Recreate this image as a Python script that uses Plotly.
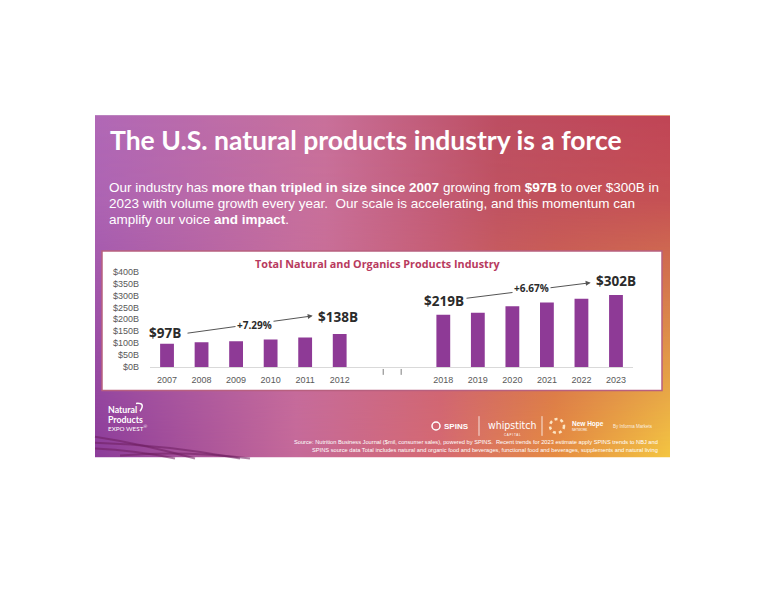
import base64
import plotly.graph_objects as go

# ---------------- data ----------------
years_early = ["2007", "2008", "2009", "2010", "2011", "2012"]
values_early = [97, 104, 108, 115, 124, 138]
years_late = ["2018", "2019", "2020", "2021", "2022", "2023"]
values_late = [219, 228, 255, 271, 286, 302]
gap_cats = [" ", "  "]
y_ticks = [0, 50, 100, 150, 200, 250, 300, 350, 400]
cagr_early = "+7.29%"
cagr_late = "+6.67%"

W, H = 776, 600
OX, OY = 8, 8  # page body margin offset


def px(x):
    return (x - OX) / W


def py(y):
    return 1 - (y - OY) / H


categories = years_early + gap_cats + years_late
values = values_early + [None, None] + values_late

# ---------------- background gradient (SVG) ----------------
svg = """<svg xmlns='http://www.w3.org/2000/svg' width='580' height='350' viewBox='0 0 580 350' preserveAspectRatio='none'>
<defs>
<linearGradient id='bot' x1='0' y1='0' x2='1' y2='0'>
<stop offset='0' stop-color='#8c3c9a'/>
<stop offset='0.35' stop-color='#c66a9a'/>
<stop offset='0.6' stop-color='#d66a72'/>
<stop offset='0.8' stop-color='#e68c42'/>
<stop offset='1' stop-color='#f4c642'/>
</linearGradient>
<linearGradient id='top' x1='0' y1='0' x2='1' y2='0'>
<stop offset='0' stop-color='#b068b6'/>
<stop offset='0.4' stop-color='#c8709a'/>
<stop offset='0.7' stop-color='#bc4e62'/>
<stop offset='1' stop-color='#c04456'/>
</linearGradient>
<linearGradient id='v' x1='0' y1='0' x2='0' y2='1'>
<stop offset='0' stop-color='white'/>
<stop offset='0.25' stop-color='white' stop-opacity='0.9'/>
<stop offset='1' stop-color='white' stop-opacity='0'/>
</linearGradient>
<mask id='m'><rect width='580' height='350' fill='url(#v)'/></mask>
</defs>
<rect width='580' height='350' fill='url(#bot)'/>
<rect width='580' height='350' fill='url(#top)' mask='url(#m)'/>
</svg>"""
svg_uri = "data:image/svg+xml;base64," + base64.b64encode(svg.encode()).decode()

fig = go.Figure()

fig.add_trace(go.Bar(
    x=categories, y=values,
    marker=dict(color="#8e3a96", line=dict(width=0)),
    hoverinfo="skip", showlegend=False,
))

shapes = []
# chart panel
shapes.append(dict(type="rect", xref="paper", yref="paper",
                   x0=px(102), x1=px(662), y0=py(392), y1=py(250),
                   fillcolor="white", line=dict(color="#b8607f", width=1.5),
                   layer="below"))
# axis break marks
for xb in (6.26, 6.78):
    shapes.append(dict(type="line", xref="x", yref="paper",
                       x0=xb, x1=xb, y0=py(376), y1=py(370),
                       line=dict(color="#7f7f7f", width=1)))
# decorative swooshes bottom-left
swoosh_paths = [
    [(95, 439), (140, 446), (195, 461)],
    [(95, 445), (165, 447), (240, 461)],
    [(95, 451), (135, 453), (175, 461)],
    [(120, 458), (185, 453), (250, 461)],
]
for pts in swoosh_paths:
    (x0, y0), (xc, yc), (x1, y1) = pts
    path = f"M {px(x0)},{py(y0)} Q {px(xc)},{py(yc)} {px(x1)},{py(y1)}"
    shapes.append(dict(type="path", xref="paper", yref="paper", path=path,
                       line=dict(color="rgba(110,30,95,0.55)", width=2)))
# logo swirl
shapes.append(dict(type="path", xref="paper", yref="paper",
                   path=f"M {px(136)},{py(405)} Q {px(146)},{py(404)} {px(140)},{py(413)}",
                   line=dict(color="white", width=1.5)))
# logo dividers
for xd in (479, 542):
    shapes.append(dict(type="line", xref="paper", yref="paper",
                       x0=px(xd), x1=px(xd), y0=py(438), y1=py(418),
                       line=dict(color="rgba(255,255,255,0.8)", width=1)))
# SPINS icon and New Hope ring icon
shapes.append(dict(type="circle", xref="paper", yref="paper",
                   x0=px(432), x1=px(440), y0=py(432), y1=py(424),
                   line=dict(color="white", width=1.5), fillcolor="rgba(0,0,0,0)"))
shapes.append(dict(type="circle", xref="paper", yref="paper",
                   x0=px(550), x1=px(564), y0=py(435), y1=py(421),
                   line=dict(color="rgba(255,240,210,0.9)", width=2.5, dash="dot"),
                   fillcolor="rgba(0,0,0,0)"))

ann = []
WHITE = "white"
# title
ann.append(dict(text="<b>The U.S. natural products industry is a force</b>",
                x=px(108), y=py(137), xanchor="left", yanchor="middle",
                font=dict(family="Lato", size=26.5, color=WHITE)))
body_lines = [
    "Our industry has <b>more than tripled in size since 2007</b> growing from <b>$97B</b> to over $300B in",
    "2023 with volume growth every year.  Our scale is accelerating, and this momentum can",
    "amplify our voice <b>and impact</b>.",
]
for i, line in enumerate(body_lines):
    ann.append(dict(text=line, x=px(107), y=py(185.5 + 16 * i), xanchor="left",
                    yanchor="middle",
                    font=dict(family="Liberation Sans", size=13.5, color=WHITE)))
# chart title
ann.append(dict(text="<b>Total Natural and Organics Products Industry</b>",
                x=px(378), y=py(263), xanchor="center", yanchor="middle",
                font=dict(family="Open Sans", size=10.8, color="#b83a5e")))

# arrows (drawn first so labels sit on top)
ann.append(dict(text="", x=px(312.7), y=py(316), xref="paper", yref="paper",
                showarrow=True, ax=-126.7, ay=17.5, arrowhead=2, arrowsize=1,
                arrowwidth=1, arrowcolor="#555555"))
ann.append(dict(text="", x=px(590.7), y=py(282.3), xref="paper", yref="paper",
                showarrow=True, ax=-125.7, ay=15.7, arrowhead=2, arrowsize=1,
                arrowwidth=1, arrowcolor="#555555"))

label_font = dict(family="Open Sans", size=13.5, color="#2b2b2b")
ann.append(dict(text=f"<b>${values_early[0]}B</b>", x=px(165), y=py(333.3),
                font=label_font))
ann.append(dict(text=f"<b>${values_early[-1]}B</b>", x=px(338), y=py(317.3),
                font=label_font))
ann.append(dict(text=f"<b>${values_late[0]}B</b>", x=px(443.5), y=py(301),
                font=label_font))
ann.append(dict(text=f"<b>${values_late[-1]}B</b>", x=px(616), y=py(280.7),
                font=label_font))
pct_font = dict(family="Open Sans", size=10, color="#2b2b2b")
ann.append(dict(text=f"<b>{cagr_early}</b>", x=px(254.7), y=py(325),
                bgcolor="white", borderpad=1, font=pct_font))
ann.append(dict(text=f"<b>{cagr_late}</b>", x=px(531), y=py(288),
                bgcolor="white", borderpad=1, font=pct_font))

# bottom-left logo
ann.append(dict(text="<b>Natural</b>", x=px(106), y=py(411.5), xanchor="left",
                font=dict(family="Lato", size=8.8, color=WHITE)))
ann.append(dict(text="<b>Products</b>", x=px(106), y=py(421), xanchor="left",
                font=dict(family="Lato", size=8.8, color=WHITE)))
ann.append(dict(text="EXPO WEST<sup>®</sup>", x=px(106), y=py(430), xanchor="left",
                font=dict(family="Lato", size=6.3, color=WHITE)))

# right logos
ann.append(dict(text="<b>SPINS</b>", x=px(442), y=py(428), xanchor="left",
                font=dict(family="Liberation Sans", size=8, color=WHITE)))
ann.append(dict(text="whipstitch", x=px(512), y=py(426.5), xanchor="center",
                font=dict(family="DejaVu Sans Condensed, Liberation Sans", size=10.5,
                          color=WHITE)))
ann.append(dict(text="C A P I T A L", x=px(512), y=py(437), xanchor="center",
                font=dict(family="Liberation Sans", size=3, color=WHITE)))
ann.append(dict(text="<b>New Hope</b>", x=px(570), y=py(426), xanchor="left",
                font=dict(family="Liberation Sans", size=6.5, color=WHITE)))
ann.append(dict(text="NETWORK", x=px(570), y=py(432), xanchor="left",
                font=dict(family="Liberation Sans", size=3, color=WHITE)))
ann.append(dict(text="By Informa Markets", x=px(611), y=py(428), xanchor="left",
                font=dict(family="Liberation Sans", size=4.5,
                          color="rgba(255,255,255,0.85)")))

# source note
src_lines = [
    "Source: Nutrition Business Journal ($mil, consumer sales), powered by SPINS.  Recent trends for 2023 estimate apply SPINS trends to NBJ and",
    "SPINS source data Total includes natural and organic food and beverages, functional food and beverages, supplements and natural living",
]
for i, line in enumerate(src_lines):
    ann.append(dict(text=line, x=px(660), y=py(444 + 8 * i), xanchor="right",
                    font=dict(family="Liberation Sans", size=5.7, color=WHITE)))

for a in ann:
    a.setdefault("xref", "paper")
    a.setdefault("yref", "paper")
    a.setdefault("showarrow", False)
    a.setdefault("yanchor", "middle")
    a.setdefault("xanchor", "center")

fig.update_layout(
    width=W, height=H, autosize=False,
    margin=dict(l=0, r=0, t=0, b=0),
    paper_bgcolor="white", plot_bgcolor="rgba(0,0,0,0)",
    bargap=0.6,
    shapes=shapes, annotations=ann,
    images=[dict(source=svg_uri, xref="paper", yref="paper",
                 x=px(95), y=py(112), sizex=575 / W, sizey=348 / H,
                 xanchor="left", yanchor="top", sizing="stretch",
                 layer="below")],
    xaxis=dict(domain=[px(149.75), px(633.25)], type="category",
               categoryorder="array", categoryarray=categories,
               showgrid=False, zeroline=False, showline=True,
               linecolor="#d9d9d9", linewidth=1,
               ticks="outside", ticklen=4, tickcolor="rgba(0,0,0,0)",
               tickfont=dict(family="Liberation Sans", size=9, color="#595959"),
               fixedrange=True),
    yaxis=dict(domain=[py(368), py(271)], range=[0, 400],
               tickvals=y_ticks, ticktext=[f"${v}B" for v in y_ticks],
               showgrid=False, zeroline=False, showline=False,
               ticks="outside", ticklen=8, tickcolor="rgba(0,0,0,0)",
               tickfont=dict(family="Liberation Sans", size=9, color="#595959"),
               fixedrange=True),
)

fig.write_html("out.html")
